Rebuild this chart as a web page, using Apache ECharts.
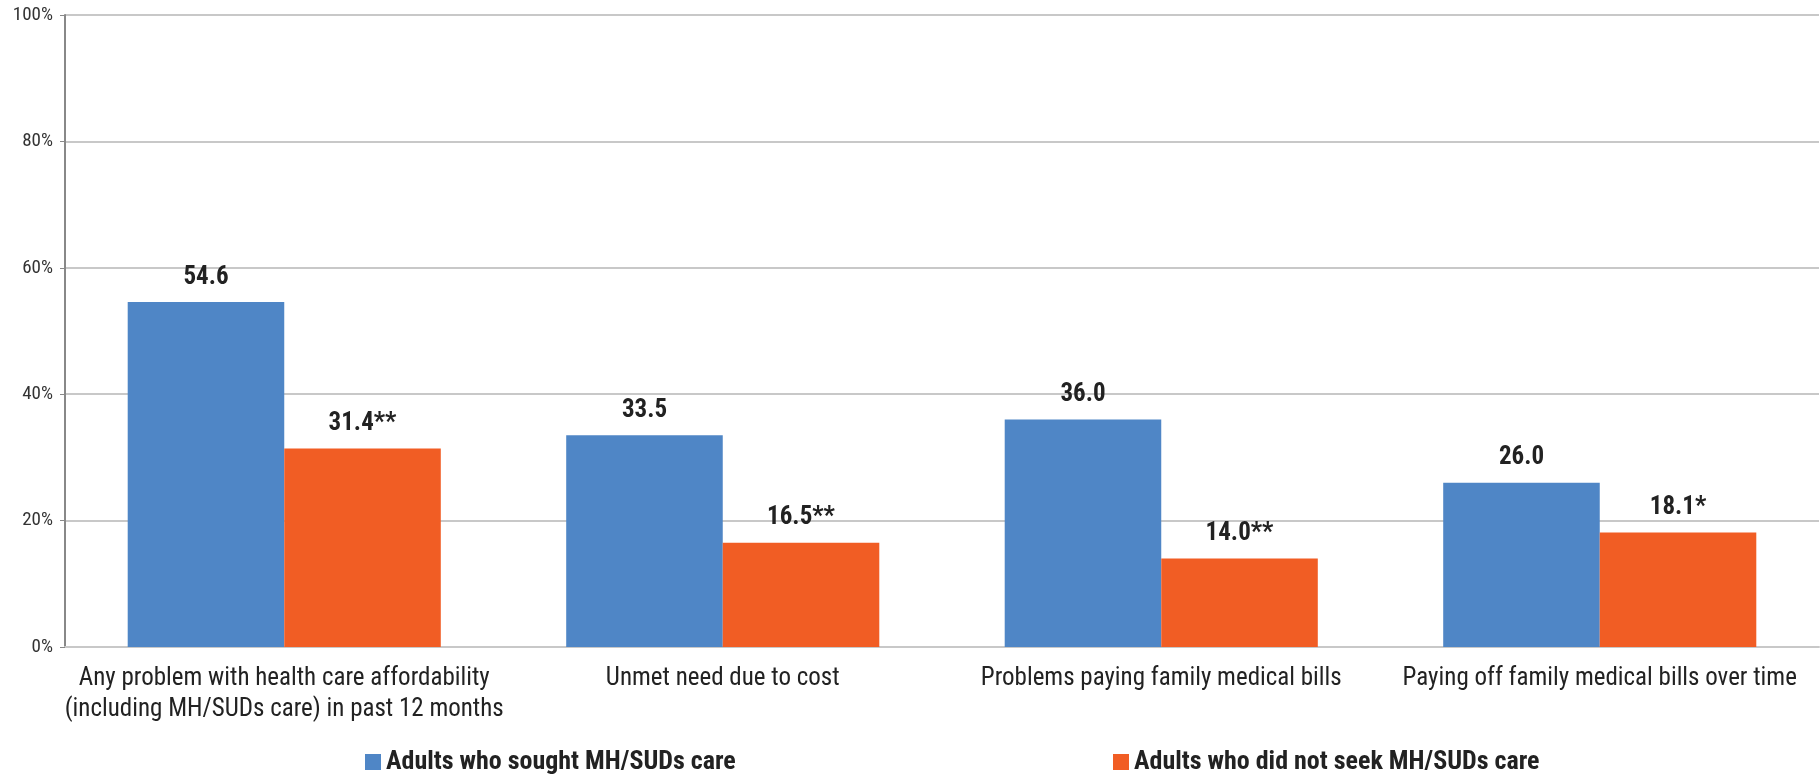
<!DOCTYPE html>
<html><head><meta charset="utf-8">
<script src="https://cdn.jsdelivr.net/npm/echarts@6/dist/echarts.min.js"></script>
<style>html,body{margin:0;padding:0;background:#fff}#c{width:1820px;height:774px}</style>
</head><body><div id="c"></div>
<script>
const categories = [
  "Any problem with health care affordability\n(including MH/SUDs care) in past 12 months",
  "Unmet need due to cost",
  "Problems paying family medical bills",
  "Paying off family medical bills over time"
];
const seriesNames = ["Adults who sought MH/SUDs care", "Adults who did not seek MH/SUDs care"];
const soughtValues = [54.6, 33.5, 36.0, 26.0];
const notSoughtValues = [31.4, 16.5, 14.0, 18.1];
const soughtMarks = ["", "", "", ""];
const notSoughtMarks = ["**", "**", "**", "*"];
const yTicks = [0, 20, 40, 60, 80, 100];

const FONT = '"Liberation Sans Narrow", "Arial Narrow", "Roboto Condensed", "Liberation Sans", sans-serif';
const chart = echarts.init(document.getElementById('c'));
function lbl(marks) {
  return {
    show: true, position: 'top', distance: 12,
    fontFamily: FONT, fontWeight: 'bold', fontSize: 25, color: '#222',
    formatter: p => p.value.toFixed(1) + marks[p.dataIndex]
  };
}
const legText = { fontFamily: FONT, fontWeight: 'bold', fontSize: 26, color: '#222' };
chart.setOption({
  animation: false,
  textStyle: { fontFamily: FONT },
  grid: { left: 65, right: 1, top: 15, bottom: 127, containLabel: false },
  legend: [
    { data: [seriesNames[0]], left: 360, top: 744, itemWidth: 16, itemHeight: 16, itemGap: 4, icon: 'rect',
      textStyle: legText },
    { data: [seriesNames[1]], left: 1108, top: 744, itemWidth: 16, itemHeight: 16, itemGap: 4, icon: 'rect',
      textStyle: legText }
  ],
  xAxis: {
    type: 'category', data: categories,
    axisLine: { lineStyle: { color: '#c8c8c8', width: 2 } },
    axisTick: { show: false },
    axisLabel: { fontFamily: FONT, fontSize: 25, color: '#222', lineHeight: 31, margin: 16, interval: 0 }
  },
  yAxis: {
    type: 'value', min: 0, max: 100, interval: 20,
    axisLine: { show: true, lineStyle: { color: '#888', width: 2 } },
    axisTick: { show: true, length: 5, lineStyle: { color: '#888' } },
    splitLine: { lineStyle: { color: '#c8c8c8', width: 2 } },
    axisLabel: { fontFamily: FONT, fontSize: 19, color: '#333', margin: 12,
      formatter: v => yTicks.includes(v) ? v + '%' : '' }
  },
  series: [
    { name: seriesNames[0], type: 'bar', data: soughtValues, barGap: '0%', barCategoryGap: '28.6%',
      itemStyle: { color: '#4F86C6' }, label: lbl(soughtMarks) },
    { name: seriesNames[1], type: 'bar', data: notSoughtValues, barGap: '0%', barCategoryGap: '28.6%',
      itemStyle: { color: '#F15D24' }, label: lbl(notSoughtMarks) }
  ]
});
</script></body></html>
